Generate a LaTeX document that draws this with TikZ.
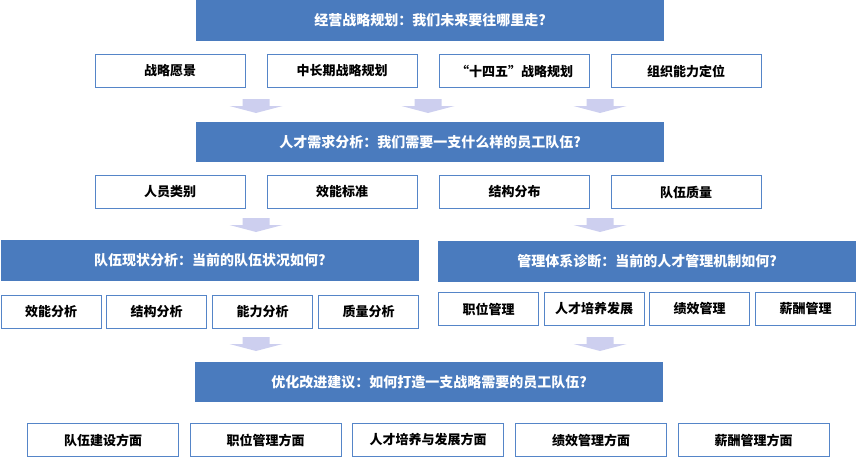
\documentclass[tikz,border=0pt]{standalone}
\usepackage{fontspec}
\usepackage{color}
\usepackage{tikz}
\newfontfamily\cjk{Noto Sans CJK SC}
\definecolor{blue500}{HTML}{4A7BBE}
\definecolor{blue400}{HTML}{5585C8}
\definecolor{indigo100}{HTML}{CDCFEF}
\tikzstyle{titlebar}=[rectangle, fill=blue500, text=white, inner sep=0pt, font=\cjk\bfseries\fontsize{14}{16}\selectfont]
\tikzstyle{itembox}=[rectangle, draw=blue400, fill=white, line width=1pt, inner sep=0pt, minimum height=33pt, font=\cjk\bfseries\fontsize{13}{15}\selectfont]
\tikzstyle{blockarrow}=[fill=indigo100]

\begin{document}
\begin{tikzpicture}[x=1pt, y=-1pt]
					\useasboundingbox (0,0) rectangle (856,458);
					% stage 1
					\node[titlebar, minimum width=468pt, minimum height=41pt] (t1) at (430,20.5) {经营战略规划：我们未来要往哪里走?};
					\node[itembox, minimum width=150pt] (b11) at (170,71) {战略愿景};
					\node[itembox, minimum width=150pt] (b12) at (342,71) {中长期战略规划};
					\node[itembox, minimum width=150pt] (b13) at (514.5,71) {“十四五”战略规划};
					\node[itembox, minimum width=150pt] (b14) at (686,71) {组织能力定位};
					\path[blockarrow] (242.5,99) -- (269.5,99) -- (269.5,106) -- (282.5,106) -- (256,113) -- (229.5,106) -- (242.5,106) -- cycle;
					\path[blockarrow] (414.5,99) -- (441.5,99) -- (441.5,106) -- (454.5,106) -- (428,113) -- (401.5,106) -- (414.5,106) -- cycle;
					\path[blockarrow] (586.5,99) -- (613.5,99) -- (613.5,106) -- (626.5,106) -- (600,113) -- (573.5,106) -- (586.5,106) -- cycle;
					% stage 2
					\node[titlebar, minimum width=468pt, minimum height=40pt] (t2) at (430,142) {人才需求分析：我们需要一支什么样的员工队伍?};
					\node[itembox, minimum width=150pt] (b21) at (170,192) {人员类别};
					\node[itembox, minimum width=150pt] (b22) at (342,192) {效能标准};
					\node[itembox, minimum width=150pt] (b23) at (514.5,192) {结构分布};
					\node[itembox, minimum width=150pt] (b24) at (686,192) {队伍质量};
					\path[blockarrow] (242.5,218) -- (269.5,218) -- (269.5,225) -- (282.5,225) -- (256,232) -- (229.5,225) -- (242.5,225) -- cycle;
					\path[blockarrow] (586.5,218) -- (613.5,218) -- (613.5,225) -- (626.5,225) -- (600,232) -- (573.5,225) -- (586.5,225) -- cycle;
					% stage 3
					\node[titlebar, minimum width=418pt, minimum height=41pt] (t3) at (210,260.5) {队伍现状分析：当前的队伍状况如何?};
					\node[titlebar, minimum width=418pt, minimum height=41pt] (t4) at (647,261.5) {管理体系诊断：当前的人才管理机制如何?};
					\node[itembox, minimum width=100pt] (b31) at (51,311.5) {效能分析};
					\node[itembox, minimum width=100pt] (b32) at (156.5,311.5) {结构分析};
					\node[itembox, minimum width=100pt] (b33) at (262.5,311.5) {能力分析};
					\node[itembox, minimum width=100pt] (b34) at (368.5,311.5) {质量分析};
					\node[itembox, minimum width=100pt] (b41) at (488.5,309) {职位管理};
					\node[itembox, minimum width=100pt] (b42) at (594,309) {人才培养发展};
					\node[itembox, minimum width=100pt] (b43) at (699.5,309) {绩效管理};
					\node[itembox, minimum width=100pt] (b44) at (805.5,309) {薪酬管理};
					\path[blockarrow] (242.5,337) -- (269.5,337) -- (269.5,344) -- (282.5,344) -- (256,351) -- (229.5,344) -- (242.5,344) -- cycle;
					\path[blockarrow] (586.5,337) -- (613.5,337) -- (613.5,344) -- (626.5,344) -- (600,351) -- (573.5,344) -- (586.5,344) -- cycle;
					% stage 4
					\node[titlebar, minimum width=468pt, minimum height=40pt] (t5) at (429,382) {优化改进建议：如何打造一支战略需要的员工队伍?};
					\node[itembox, minimum width=151pt] (b51) at (103,440) {队伍建设方面};
					\node[itembox, minimum width=151pt] (b52) at (265.5,440) {职位管理方面};
					\node[itembox, minimum width=151pt] (b53) at (428,440) {人才培养与发展方面};
					\node[itembox, minimum width=151pt] (b54) at (591,440) {绩效管理方面};
					\node[itembox, minimum width=151pt] (b55) at (753.5,440) {薪酬管理方面};
				\end{tikzpicture}
\end{document}
